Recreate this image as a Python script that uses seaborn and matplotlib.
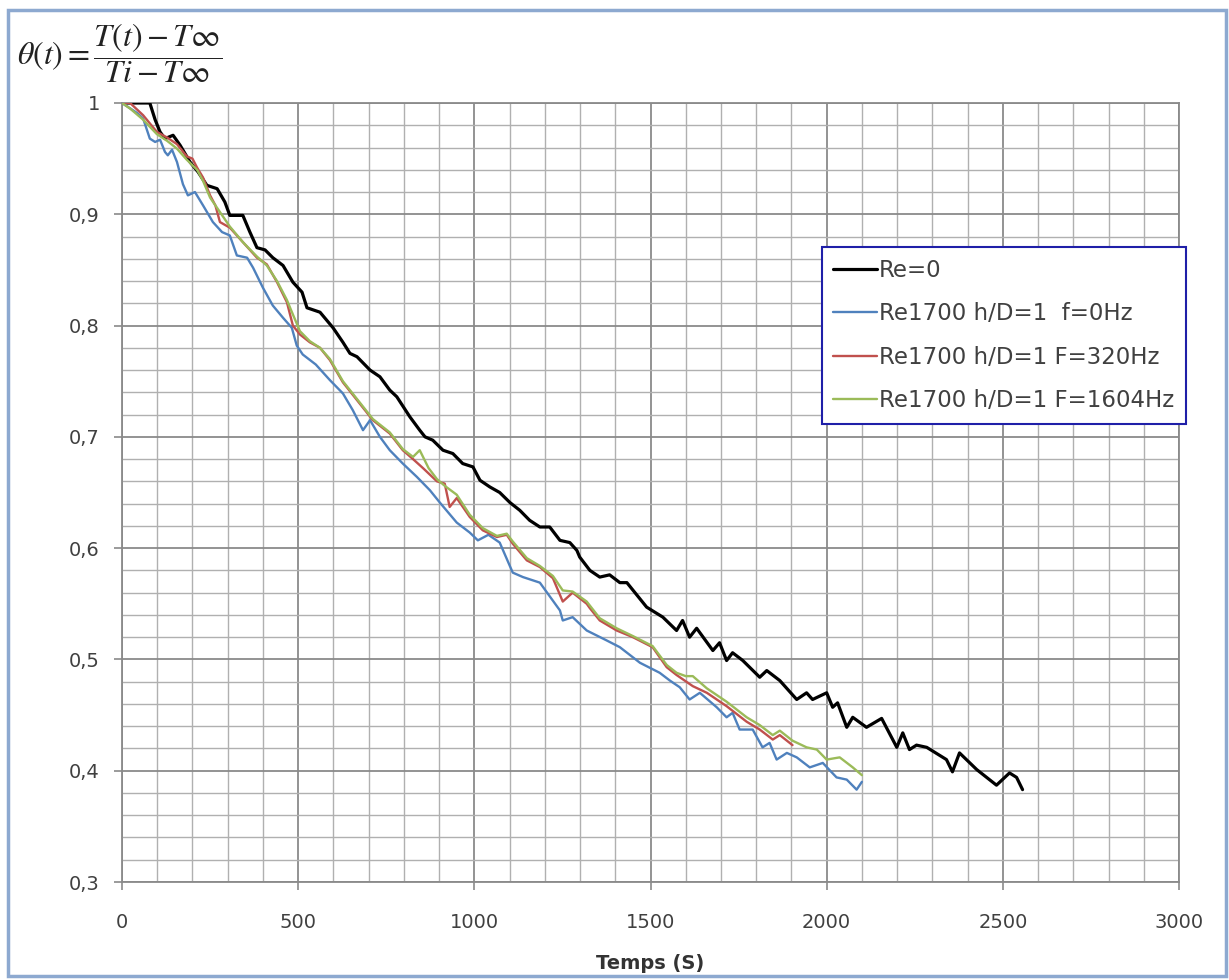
import matplotlib
matplotlib.use("Agg")
import matplotlib.pyplot as plt
import matplotlib.ticker as mticker
from matplotlib.patches import Rectangle
import pandas as pd
import seaborn as sns

# Re=0
t_re0 = [0, 79, 94, 108, 122, 145, 165, 193, 216, 241, 270, 292, 306, 343, 363, 383, 406, 428,
         457, 485, 511, 525, 562, 599, 627, 647, 667, 704, 732, 760, 780, 817, 845, 860, 882,
         911, 939, 967, 996, 1016, 1044, 1072, 1101, 1129, 1157, 1186, 1214, 1243, 1271, 1291,
         1299, 1328, 1356, 1384, 1413, 1433, 1489, 1535, 1574, 1591, 1611, 1631, 1677, 1696,
         1716, 1733, 1762, 1810, 1830, 1867, 1915, 1943, 1960, 2000, 2017, 2031, 2057, 2074,
         2113, 2156, 2199, 2216, 2235, 2255, 2284, 2340, 2357, 2377, 2426, 2482, 2519, 2539, 2556]
v_re0 = [1.0, 1.0, 0.985, 0.974, 0.968, 0.971, 0.962, 0.947, 0.938, 0.926, 0.923, 0.911, 0.899,
         0.899, 0.884, 0.870, 0.868, 0.861, 0.854, 0.839, 0.830, 0.816, 0.812, 0.798, 0.785,
         0.775, 0.772, 0.760, 0.754, 0.742, 0.736, 0.718, 0.706, 0.700, 0.697, 0.688, 0.685,
         0.676, 0.673, 0.661, 0.655, 0.650, 0.641, 0.634, 0.625, 0.619, 0.619, 0.607, 0.605,
         0.598, 0.592, 0.580, 0.574, 0.576, 0.569, 0.569, 0.547, 0.538, 0.526, 0.535, 0.520,
         0.528, 0.508, 0.515, 0.499, 0.506, 0.499, 0.484, 0.490, 0.481, 0.464, 0.470, 0.464,
         0.470, 0.457, 0.461, 0.439, 0.448, 0.439, 0.447, 0.421, 0.434, 0.419, 0.423, 0.421,
         0.410, 0.399, 0.416, 0.401, 0.387, 0.398, 0.394, 0.383]

# Re1700 h/D=1 f=0Hz
t_f0 = [0, 43, 60, 79, 94, 108, 122, 130, 142, 156, 173, 187, 207, 230, 258, 284, 306, 326, 355,
        372, 400, 428, 457, 482, 496, 513, 550, 590, 627, 655, 684, 704, 732, 760, 797, 837, 874,
        902, 950, 987, 1010, 1040, 1072, 1109, 1138, 1186, 1243, 1251, 1279, 1319, 1376, 1413,
        1470, 1526, 1555, 1583, 1611, 1640, 1688, 1716, 1733, 1753, 1790, 1818, 1838, 1858,
        1887, 1915, 1952, 1989, 2028, 2057, 2085, 2100]
v_f0 = [1.0, 0.991, 0.986, 0.968, 0.965, 0.967, 0.956, 0.953, 0.958, 0.947, 0.927, 0.917, 0.920,
        0.908, 0.893, 0.884, 0.881, 0.863, 0.861, 0.852, 0.834, 0.818, 0.807, 0.798, 0.782,
        0.774, 0.765, 0.751, 0.739, 0.724, 0.706, 0.715, 0.700, 0.688, 0.676, 0.664, 0.652,
        0.641, 0.623, 0.614, 0.607, 0.612, 0.605, 0.578, 0.574, 0.569, 0.544, 0.535, 0.538,
        0.526, 0.517, 0.511, 0.497, 0.488, 0.481, 0.475, 0.464, 0.470, 0.457, 0.448, 0.452,
        0.437, 0.437, 0.421, 0.425, 0.410, 0.416, 0.412, 0.403, 0.407, 0.394, 0.392, 0.383,
        0.390]

# Re1700 h/D=1 F=320Hz
t_f320 = [0, 23, 60, 99, 128, 156, 184, 200, 213, 230, 250, 265, 278, 306, 343, 383, 411, 440,
          468, 485, 505, 533, 562, 590, 627, 667, 712, 760, 797, 826, 854, 894, 916, 930, 950,
          987, 1024, 1064, 1092, 1109, 1149, 1186, 1223, 1251, 1279, 1319, 1328, 1356, 1404,
          1450, 1506, 1546, 1574, 1620, 1660, 1716, 1773, 1810, 1847, 1867, 1903]
v_f320 = [1.0, 1.0, 0.989, 0.974, 0.969, 0.963, 0.952, 0.950, 0.942, 0.933, 0.917, 0.908, 0.893,
          0.888, 0.875, 0.861, 0.855, 0.839, 0.821, 0.800, 0.792, 0.785, 0.780, 0.769, 0.749,
          0.733, 0.715, 0.703, 0.688, 0.680, 0.672, 0.660, 0.658, 0.637, 0.645, 0.628, 0.616,
          0.610, 0.612, 0.604, 0.589, 0.583, 0.573, 0.552, 0.560, 0.550, 0.546, 0.535, 0.526,
          0.520, 0.511, 0.493, 0.486, 0.476, 0.470, 0.458, 0.444, 0.437, 0.428, 0.432, 0.423]

# Re1700 h/D=1 F=1604Hz
t_f1604 = [0, 23, 60, 99, 128, 156, 184, 213, 230, 250, 278, 306, 343, 383, 411, 440, 468, 485,
           505, 533, 562, 590, 627, 667, 712, 760, 797, 826, 845, 870, 894, 916, 950, 987, 1024,
           1064, 1092, 1109, 1149, 1186, 1223, 1251, 1279, 1319, 1356, 1404, 1450, 1506, 1546,
           1574, 1600, 1620, 1660, 1716, 1773, 1810, 1847, 1867, 1903, 1943, 1972, 2000, 2037,
           2074, 2100]
v_f1604 = [1.0, 0.995, 0.985, 0.972, 0.966, 0.959, 0.949, 0.940, 0.930, 0.915, 0.902, 0.889,
           0.875, 0.862, 0.854, 0.840, 0.823, 0.810, 0.795, 0.786, 0.780, 0.770, 0.750, 0.734,
           0.716, 0.704, 0.689, 0.682, 0.688, 0.672, 0.662, 0.656, 0.648, 0.630, 0.618, 0.611,
           0.613, 0.606, 0.591, 0.584, 0.575, 0.562, 0.561, 0.552, 0.537, 0.528, 0.521, 0.512,
           0.495, 0.488, 0.485, 0.485, 0.474, 0.462, 0.448, 0.441, 0.432, 0.436, 0.427, 0.421,
           0.419, 0.410, 0.412, 0.403, 0.396]

series = [
    ("Re=0", t_re0, v_re0, "#000000", 2.3),
    ("Re1700 h/D=1  f=0Hz", t_f0, v_f0, "#4F81BD", 1.7),
    ("Re1700 h/D=1 F=320Hz", t_f320, v_f320, "#C0504D", 1.7),
    ("Re1700 h/D=1 F=1604Hz", t_f1604, v_f1604, "#9BBB59", 1.7),
]

sns.set_style("white")
plt.rcParams['font.family'] = ['DejaVu Sans']
plt.rcParams['mathtext.fontset'] = 'stix'

fig = plt.figure(figsize=(12.29, 9.8), dpi=100)
ax = fig.add_axes([122 / 1229, 1 - 882 / 980, (1179 - 122) / 1229, (882 - 103) / 980])

for name, t, v, col, lw in series:
    df = pd.DataFrame({"t": t, "theta": v})
    sns.lineplot(data=df, x="t", y="theta", color=col, linewidth=lw, label=name,
                 estimator=None, sort=False, ax=ax, zorder=3)

ax.set_xlim(0, 3000)
ax.set_ylim(0.3, 1.0)
ax.xaxis.set_major_locator(mticker.MultipleLocator(500))
ax.xaxis.set_minor_locator(mticker.MultipleLocator(100))
ax.yaxis.set_major_locator(mticker.MultipleLocator(0.1))
ax.yaxis.set_minor_locator(mticker.MultipleLocator(0.02))
ax.yaxis.set_major_formatter(mticker.FuncFormatter(
    lambda v, p: "1" if abs(v - 1) < 1e-6 else f"{v:.1f}".replace(".", ",")))
ax.xaxis.set_major_formatter(mticker.FuncFormatter(lambda v, p: f"{v:.0f}"))

ax.grid(which="major", color="#8a8a8a", linewidth=1.3)
ax.grid(which="minor", color="#b0b0b0", linewidth=1.0)
ax.set_axisbelow(True)
for s in ax.spines.values():
    s.set_color("#8a8a8a")
    s.set_linewidth(1.3)

ax.tick_params(axis="both", which="major", length=6, color="#8a8a8a", width=1.2,
               labelsize=14, labelcolor="#404040", direction="out")
ax.tick_params(axis="x", which="major", pad=16, bottom=True)
ax.tick_params(axis="y", which="major", pad=10, left=True)
ax.tick_params(which="minor", length=0)

ax.set_xlabel("Temps (S)", fontsize=14, fontweight="bold", color="#333333", labelpad=16)
ax.set_ylabel("")

fig.text(0.014, 0.946, r"$\theta(t) = \dfrac{T(t) - T\infty}{Ti - T\infty}$",
         fontsize=23, va="center", ha="left", color="#222222")

leg = ax.legend(loc="upper left", bbox_to_anchor=(0.662, 0.815), borderaxespad=0,
                fontsize=16.5, frameon=True, fancybox=False, framealpha=1,
                edgecolor="#1f1fa8", handlelength=1.9, handletextpad=0.1,
                labelspacing=0.9, borderpad=0.5)
leg.get_frame().set_linewidth(1.5)
for txt in leg.get_texts():
    txt.set_color("#404040")

fig.patches.append(Rectangle((8 / 1229, 0.004), (1226 - 8) / 1229, 1 - 10 / 980 - 0.004,
                             transform=fig.transFigure, fill=False,
                             edgecolor="#8DA9D0", linewidth=2.5))

fig.savefig("out.png", dpi=100)
